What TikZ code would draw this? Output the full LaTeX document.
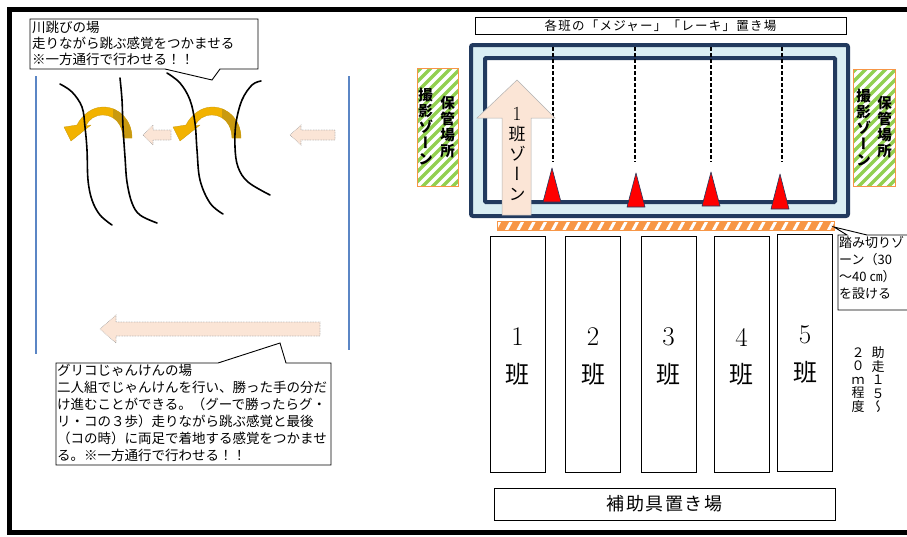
\documentclass[tikz,border=0pt]{standalone}
\usepackage{fontspec}
\newfontfamily\jp{Noto Sans CJK JP}
\newfontfamily\jpv{Noto Sans CJK JP}[RawFeature=+vert]
\newcommand\jsz[2]{\fontsize{#1}{#2}\selectfont}

\definecolor{trackline}{HTML}{223A5E}
\definecolor{trackfill}{HTML}{DAEEF3}
\definecolor{conered}{HTML}{FF0000}
\definecolor{peach}{HTML}{FBE5D6}
\definecolor{stripegreen}{HTML}{92D050}
\definecolor{zoneorange}{HTML}{F79646}
\definecolor{laneblue}{HTML}{5B86C5}
\definecolor{goldlight}{HTML}{F2B200}
\definecolor{golddark}{HTML}{C99A10}

\tikzset{
  callout/.style={draw=black, line width=0.9pt, fill=white, line join=miter},
  note/.style={inner sep=0pt, anchor=north west, align=left},
  plainbox/.style={draw=black, line width=0.9pt, fill=white, inner sep=0pt},
  lane/.style={draw=black, line width=1pt, fill=white, minimum width=55pt, inner sep=0pt},
  lanenum/.style={inner sep=0pt, font=\rmfamily\jsz{27}{27}},
  laneban/.style={inner sep=0pt, font=\jp\jsz{24}{24}},
  cone/.style={fill=conered, draw=trackline, line width=0.6pt, line join=round},
  lanemark/.style={dash pattern=on 4pt off 2pt, line width=1.2pt},
  blockarrow/.style={fill=peach, draw=gray!75, line width=0.6pt, densely dotted},
  river/.style={line width=1.6pt, line cap=round},
  boundary/.style={draw=laneblue, line width=1.2pt},
  sidetext/.style={inner sep=0pt, align=center, font=\jpv\bfseries\jsz{14.5}{16}},
  goldarc/.pic={
    \fill[goldlight, draw=golddark, line width=0.3pt, line join=round]
      (132,138) .. controls (132,121) and (120,107) .. (103,107)
      .. controls (92,107) and (82,115) .. (77,125) -- (64,127) -- (71,141) -- (91,125) -- (86,126)
      .. controls (89,119) and (95,115) .. (103,115)
      .. controls (114,115) and (123,124) .. (123,138) -- cycle;
    \begin{scope}
      \clip (113,100) rectangle (140,145);
      \fill[golddark] (132,138) .. controls (132,121) and (120,107) .. (103,107)
        -- (103,115) .. controls (114,115) and (123,124) .. (123,138) -- cycle;
    \end{scope}
  }
}

\begin{document}
\begin{tikzpicture}[x=1pt,y=-1pt]
\useasboundingbox (0,0) rectangle (907,536);

% ---------- long-jump practice area (left) ----------
\draw[boundary] (36,76) -- (36,354);
\draw[boundary] (349,76) -- (349,350);

% jumping arrows over the "river"
\pic at (0,0) {goldarc};
\pic at (109,0) {goldarc};

% river banks
\draw[river] plot[smooth, tension=0.6] coordinates {(60,84) (72,92) (82,107) (85,127) (87,150) (88,180) (92,200) (100,215) (112,225)};
\draw[river] plot[smooth, tension=0.6] coordinates {(120,78) (122,100) (123,127) (125,157) (127,182) (132,203) (140,215) (157,223)};
\draw[river] plot[smooth, tension=0.6] coordinates {(167,73) (180,83) (190,100) (195,123) (197,150) (200,180) (210,203) (223,214)};
\draw[river] plot[smooth, tension=0.6] coordinates {(261,81) (252,85) (242,100) (236,123) (235,147) (238,167) (248,182) (270,195)};

% direction arrows
\draw[blockarrow] (143,135) -- (153,125) -- (153,130) -- (171,130) -- (171,140) -- (153,140) -- (153,145) -- cycle;
\draw[blockarrow] (290,135) -- (301,125) -- (301,130) -- (335,130) -- (335,140) -- (301,140) -- (301,145) -- cycle;
\draw[blockarrow] (100,329) -- (116,315) -- (116,322) -- (320,322) -- (320,336) -- (116,336) -- (116,343) -- cycle;

% callouts
\draw[callout] (30,19) -- (258,19) -- (258,69) -- (220,69) -- (212,80) -- (165,69) -- (30,69) -- cycle;
\node[note, font=\jp\jsz{13.5}{16}] (kawa) at (32,21) {川跳びの場\\走りながら跳ぶ感覚をつかませる\\※一方通行で行わせる！！};

\draw[callout] (56,363) -- (218,363) -- (280,343) -- (286,363) -- (331,363) -- (331,465) -- (56,465) -- cycle;
\node[note, font=\jp\jsz{13.5}{17}] (glico) at (57,364) {グリコじゃんけんの場\\二人組でじゃんけんを行い、勝った手の分だ\\け進むことができる。（グーで勝ったらグ・\\リ・コの３歩）走りながら跳ぶ感覚と最後\\（コの時）に両足で着地する感覚をつかませ\\る。※一方通行で行わせる！！};

% ---------- landing area (right) ----------
\node[plainbox, minimum width=371pt, minimum height=17pt, font=\jp\jsz{12.5}{12.5}\addfontfeature{LetterSpace=10}] (title) at (660.5,25.5) {各班の「メジャー」「レーキ」置き場};

\draw[line width=4pt, trackline, fill=trackfill, rounded corners=2pt] (471,45) rectangle (848,216);
\draw[line width=4pt, trackline, fill=white, rounded corners=1pt] (485,58) rectangle (835,202);

\foreach \mx in {553,635,711,782}
  \draw[lanemark] (\mx,47) -- (\mx,162);

\draw[cone] (552,168) -- (561,202) -- (543,202) -- cycle;
\draw[cone] (636,173) -- (645,207) -- (627,207) -- cycle;
\draw[cone] (711,172) -- (720,206) -- (702,206) -- cycle;
\draw[cone] (780,174) -- (789,209) -- (771,209) -- cycle;

% group 1 zone arrow
\draw[fill=peach, draw=gray!60, line width=0.5pt] (502,215) -- (502,118) -- (477,118) -- (517,80) -- (555,118) -- (531,118) -- (531,215) -- cycle;
\node[inner sep=0pt, align=center, font=\jpv\jsz{17}{20}] (zone1) at (517,154) {{\rmfamily\jsz{20}{20}1}\\班\\ゾ\\ー\\ン};

% photo / storage zones
\begin{scope}
  \clip (417,68) rectangle (458,186);
  \fill[white] (417,68) rectangle (458,186);
  \foreach \k in {-14,...,5}
    \draw[stripegreen, line width=3.5pt] ({417+10*\k},192) -- ++(130,-130);
\end{scope}
\draw[zoneorange, line width=1pt] (417,68) rectangle (458,186);
\node[sidetext] (storeL) at (447.5,127.5) {保\\管\\場\\所};
\node[sidetext] (photoL) at (425.5,126.5) {撮\\影\\ゾ\\ー\\ン};

\begin{scope}
  \clip (853,69) rectangle (895,186);
  \fill[white] (853,69) rectangle (895,186);
  \foreach \k in {-14,...,5}
    \draw[stripegreen, line width=3.5pt] ({853+10*\k},192) -- ++(130,-130);
\end{scope}
\draw[zoneorange, line width=1pt] (853,69) rectangle (895,186);
\node[sidetext] (storeR) at (884.5,127.5) {保\\管\\場\\所};
\node[sidetext] (photoR) at (863.5,127.5) {撮\\影\\ゾ\\ー\\ン};

% take-off zone strip
\begin{scope}
  \clip (497,221) rectangle (834,230);
  \fill[zoneorange] (497,221) rectangle (834,230);
  \foreach \k in {0,...,30}
    \draw[white, line width=3pt] ({494+11.5*\k},232) -- ++(7,-13);
\end{scope}
\draw[zoneorange, line width=1pt] (497,221) rectangle (834,230);

% runways
\node[lane, minimum height=236pt] (lane1) at (517.5,354) {};
\node[lane, minimum height=236pt] (lane2) at (593,354) {};
\node[lane, minimum height=236pt] (lane3) at (668.5,354) {};
\node[lane, minimum height=236pt] (lane4) at (741.5,354) {};
\node[lane, minimum height=237pt] (lane5) at (805,352.5) {};

\node[lanenum] (n1) at (517.5,337) {1};
\node[laneban] (b1) at (517.5,374) {班};
\node[lanenum] (n2) at (593,337) {2};
\node[laneban] (b2) at (593,374) {班};
\node[lanenum] (n3) at (668.5,337) {3};
\node[laneban] (b3) at (668.5,374) {班};
\node[lanenum] (n4) at (741.5,337) {4};
\node[laneban] (b4) at (741.5,374) {班};
\node[lanenum] (n5) at (805,335) {5};
\node[laneban] (b5) at (805,372) {班};

% take-off zone note
\draw[callout] (838,235) -- (847,235) -- (834,227) -- (867,235) -- (915,235) -- (915,310) -- (838,310) -- cycle;
\node[note, font=\jp\jsz{13}{17}] (fumikiri) at (839,236) {踏み切りゾ\\ーン（30\\〜40 ㎝）\\を設ける};

% run-up distance
\node[inner sep=0pt, align=center, font=\jpv\jsz{13}{13.5}] (runA) at (878,380) {助\\走\\１\\５\\〜};
\node[inner sep=0pt, align=center, font=\jpv\jsz{13}{13.5}] (runB) at (858,380) {２\\０\\ｍ\\程\\度};

% equipment area
\node[plainbox, minimum width=341pt, minimum height=32pt, font=\jp\jsz{18}{18}\addfontfeature{LetterSpace=8}] (hojo) at (664.5,504) {補助具置き場};

% outer frame
\draw[line width=5pt] (920,9.5) -- (9.5,9.5) -- (9.5,532.5) -- (920,532.5);
\end{tikzpicture}
\end{document}
